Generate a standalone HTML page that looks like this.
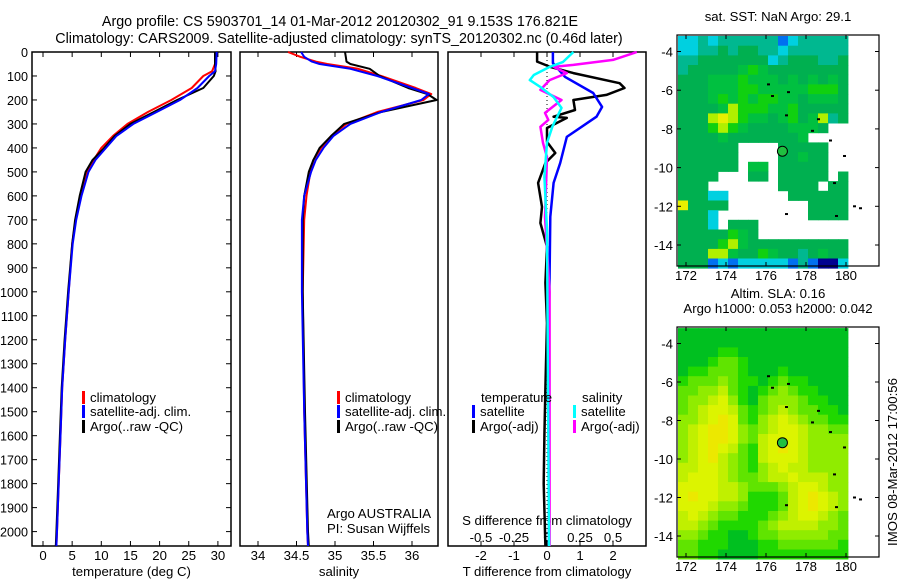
<!DOCTYPE html>
<html><head><meta charset="utf-8"><style>
body{margin:0;background:#fff;}
svg{display:block;font-family:"Liberation Sans",sans-serif;font-size:13.2px;}
</style></head><body>
<svg id="fig" width="900" height="580" viewBox="0 0 900 580">
<text x="340" y="26" text-anchor="middle" style="font-size:14.3px">Argo profile: CS 5903701_14 01-Mar-2012 20120302_91 9.153S 176.821E</text>
<text x="339" y="43" text-anchor="middle" style="font-size:14.3px">Climatology: CARS2009. Satellite-adjusted climatology: synTS_20120302.nc (0.46d later)</text>
<g id="g"></g>
</svg>
<script>
// ---- profile data ----
const depthT = [0,50,80,100,150,200,250,300,350,400,450,500,600,700,800,1000,1200,1400,1600,1800,2000,2060];
const tempClim = [29.5,29.5,29,27.5,25.5,22,18,14.5,12,10,8.7,7.6,6.5,5.6,5,4.4,3.8,3.3,3.0,2.7,2.4,2.3];
const tempSat  = [29.8,29.7,29.5,28.5,26.5,23.5,19.5,15.5,12.6,10.8,9,7.8,6.6,5.7,5.1,4.4,3.8,3.3,3.0,2.7,2.4,2.3];
const tempArgo = [29.5,29.5,29.6,29.3,27.5,23,19,15,12.3,10.5,8.5,7.3,6.3,5.5,5,4.3,3.7,3.2,2.9,2.6,2.3,2.2];
const depthS = [0,20,40,50,70,100,150,175,200,250,300,350,400,450,500,600,700,1000,1500,2000,2060];
const salClim = [34.39,34.55,34.75,34.9,35.3,35.6,36.05,36.25,36.15,35.55,35.15,34.95,34.82,34.72,34.68,34.63,34.6,34.58,34.6,34.64,34.65];
const salSat  = [34.56,34.6,34.7,34.8,35.2,35.55,36.0,36.22,36.12,35.6,35.2,34.98,34.85,34.75,34.69,34.6,34.57,34.57,34.6,34.64,34.65];
const salArgo = [35.13,35.14,35.15,35.2,35.45,35.58,35.95,36.2,36.32,35.6,35.12,34.95,34.8,34.72,34.66,34.6,34.58,34.58,34.61,34.65,34.66];
const dTsatD = [0,46,104,171,229,270,354,463,546,687,1130,2060];
const dTsat  = [0.18,0.18,0.55,1.4,1.67,1.5,0.6,0.4,0.2,0.1,0.06,0.06];
const dTargoD = [0,40,62,88,130,150,179,200,242,270,275,317,375,421,463,546,646,713,812,963,1130,1400,1600,1800,2060];
const dTargo  = [-0.3,-0.3,0.1,0.8,2.2,2.35,1.8,0.8,0.85,0.2,0.6,0,0,0.25,-0.05,-0.27,-0.15,-0.2,0,-0.05,0,-0.05,-0.08,-0.1,-0.05];
const dSsatD = [0,42,62,96,117,146,188,233,312,379,521,742,2060];
const dSsat  = [0.2,0.12,0.02,-0.1,-0.13,-0.05,0.05,0.11,0.04,0,-0.02,0,0.015];
const dSargoD = [0,33,54,62,88,117,158,200,254,283,312,379,438,688,1000,2060];
const dSargo  = [0.68,0.5,0.2,0.05,0.15,0.02,-0.05,0.11,-0.015,0.01,-0.05,-0.03,0,-0.015,0.02,0.02];
const depthTicks = [0,100,200,300,400,500,600,700,800,900,1000,1100,1200,1300,1400,1500,1600,1700,1800,1900,2000];
const tTicks = [0,5,10,15,20,25,30];
const sTicks = [34,34.5,35,35.5,36];
const dtTicks = [-2,-1,0,1,2];
const dsTicks = [-0.5,-0.25,0,0.25,0.5];
const dsTickLabels = ["-0.5","-0.25","0","0.25","0.5"];
// ---- map data ----
const lonTicks = [172,174,176,178,180];
const latTicks = [-4,-6,-8,-10,-12,-14];
const sstRows = [
"22323333331233333","22334344332333333","33444444423444334","34444456544444444",
"44455565554545454","44455566555556664","44456565665545554","44445766655644444",
"44478765545645734","444676544445554..","4444544444445....","444444....44444..",
"444444....44544..","444444.55.44444..","4444...44.44444.4","444.......4444.44",
"44422......444444","84444........4444","4442.........4444","4442.444.........",
"44444654.........","44446754444444444","44477544654434544","44412122222131002"];
const slaRows = [
"00000000000000000","00000000000000000","00001100000000000","00012210000000000",
"01122210001000000","12223211012110000","22334210123211000","23345310233321100",
"23455421234322110","33456521345432211","34566532345543322","34566532455543333",
"34565421456543333","34564321455543333","44554321345443333","45554322344544433",
"55554432223455433","56554431112456543","55543321112456543","45432211123455432",
"44321111234444332","33211001223333322","22111000112222221","22110000111111111"];
const islandLon = [176.1,176.3,177.1,177.0,178.6,178.3,179.2,179.9,179.4,180.4,180.7,177.0,179.5];
const islandLat = [-5.7,-6.3,-6.1,-7.3,-7.5,-8.1,-8.6,-9.4,-10.8,-12.0,-12.1,-12.4,-12.5];
const floatLon = 176.821, floatLat = -9.153;

const NS="http://www.w3.org/2000/svg";
const G=document.getElementById('g');
function mk(tag,attrs,parent){const e=document.createElementNS(NS,tag);for(const k in attrs)e.setAttribute(k,attrs[k]);(parent||G).appendChild(e);return e;}
const yD = d => 52 + d*0.2398;
const PT=[32,231], PS=[240,438], PD=[448,646], PY=[52,546];
const xT = v => 43 + v*5.83;
const xS = v => 258 + (v-34)*77;
const xDT = v => 547 + v*33;
const xDS = v => 547 + v*132;

function frame(x0,x1,name,ticksX,fx,labels,title,leftTicks){
  const r=mk('rect',{x:x0,y:PY[0],width:x1-x0,height:PY[1]-PY[0],fill:'none',stroke:'#000','stroke-width':1.5});
  
  
  ticksX.forEach((v,i)=>{const x=fx(v);
    mk('line',{x1:x,x2:x,y1:PY[0],y2:PY[0]+5,stroke:'#000'});
    mk('line',{x1:x,x2:x,y1:PY[1],y2:PY[1]-5,stroke:'#000'});
    const t=mk('text',{x:x,y:560,'text-anchor':'middle'});t.textContent=labels?labels[i]:String(v);
    
    
  });
  const tt=mk('text',{x:(x0+x1)/2,y:576,'text-anchor':'middle'});tt.textContent=title;
  
  
  if(leftTicks){depthTicks.forEach(d=>{const y=yD(d);
    mk('line',{x1:x0,x2:x0+5,y1:y,y2:y,stroke:'#000'});
    mk('line',{x1:x1,x2:x1-5,y1:y,y2:y,stroke:'#000'});});}
}
frame(PT[0],PT[1],'temperature-panel',tTicks,xT,null,'temperature (deg C)',true);
depthTicks.forEach(d=>{const t=mk('text',{x:28,y:yD(d)+5,'text-anchor':'end','font-size':'12.6px'});t.textContent=String(d);
  
  });
frame(PS[0],PS[1],'salinity-panel',sTicks,xS,null,'salinity',false);
frame(PD[0],PD[1],'difference-panel',dtTicks,xDT,null,'T difference from climatology',false);
dsTicks.forEach((v,i)=>{const x=xDS(v);mk('line',{x1:x,x2:x,y1:PY[0],y2:PY[0]+5,stroke:'#000'});
  const t=mk('text',{x:x,y:542,'text-anchor':'middle'});t.textContent=dsTickLabels[i];
  
  });
{const t=mk('text',{x:547,y:525,'text-anchor':'middle'});t.textContent='S difference from climatology';

}
mk('line',{x1:xDT(0),x2:xDT(0),y1:PY[0],y2:PY[1],stroke:'#000','stroke-dasharray':'1,3'});

function line(ds,vs,fx,color,name,w){
  const p=mk('polyline',{points:ds.map((d,i)=>fx(vs[i]).toFixed(1)+','+yD(d).toFixed(1)).join(' '),fill:'none',stroke:color,'stroke-width':w||2,'stroke-linejoin':'round'});
  
  
}
line(depthT,tempClim,xT,'#f00','temperature-climatology-line');
line(depthT,tempArgo,xT,'#000','temperature-argo-line');
line(depthT,tempSat,xT,'#00f','temperature-satellite-line');
line(depthS,salClim,xS,'#f00','salinity-climatology-line');
line(depthS,salArgo,xS,'#000','salinity-argo-line');
line(depthS,salSat,xS,'#00f','salinity-satellite-line');
line(dTargoD,dTargo,xDT,'#000','t-diff-argo-line',2.5);
line(dTsatD,dTsat,xDT,'#00f','t-diff-satellite-line',2.5);
line(dSargoD,dSargo,xDS,'#f0f','s-diff-argo-line',2.5);
line(dSsatD,dSsat,xDS,'#0ff','s-diff-satellite-line',2.5);

function legend(x,y,color,label,name){
  const b=mk('rect',{x:x,y:y-11,width:3,height:13,fill:color});
  
  
  const t=mk('text',{x:x+8,y:y});t.textContent=label;
  
  
}
legend(82,402,'#f00','climatology','legend-t-climatology');
legend(82,416,'#00f','satellite-adj. clim.','legend-t-satellite');
legend(82,431,'#000','Argo(..raw -QC)','legend-t-argo');
legend(337,402,'#f00','climatology','legend-s-climatology');
legend(337,416,'#00f','satellite-adj. clim.','legend-s-satellite');
legend(337,431,'#000','Argo(..raw -QC)','legend-s-argo');
{const t=mk('text',{x:481,y:402});t.textContent='temperature';
const u=mk('text',{x:582,y:402});u.textContent='salinity';}
legend(472,416,'#00f','satellite','legend-dt-satellite');
legend(472,431,'#000','Argo(-adj)','legend-dt-argo');
legend(573,416,'#0ff','satellite','legend-ds-satellite');
legend(573,431,'#f0f','Argo(-adj)','legend-ds-argo');
{const t=mk('text',{x:327,y:518});t.textContent='Argo AUSTRALIA';
const u=mk('text',{x:327,y:533});u.textContent='PI: Susan Wijffels';}

// ---- maps ----
const sstColors={'0':'#000090','1':'#0070f0','2':'#00d0e0','3':'#00b890','4':'#00b050','5':'#00c040','6':'#10d010','7':'#b0f000','8':'#e8f000'};
const slaColors=['#00c020','#20d800','#60e400','#90ec00','#c0f000','#dcf400','#ece800'];
function map(top,bottom,rows,colors,name,title1,title2){
  const xL=d=>686+(d-172)*20;
  const y4=top+16.5, y14=bottom-21;
  const yl=t=>y4+(-4-t)*(y14-y4)/10;
  const g=mk('g',{});
  
  
  rows.forEach((row,i)=>{
    for(let j=0;j<17;j++){const c=row[j]||'.';if(c==='.')continue;
      const lon=171.6+0.5*j, lat=-3.2-0.5*i;
      const col=Array.isArray(colors)?colors[+c]:colors[c];
      const x0=xL(lon),x1=xL(lon+0.5),ya=yl(lat),yb=yl(lat-0.5);
      const r=mk('rect',{x:x0.toFixed(1),y:ya.toFixed(1),width:(x1-x0+0.4).toFixed(1),height:(yb-ya+0.4).toFixed(1),fill:col},g);
      
      
    }});
  islandLon.forEach((lo,i)=>{const d=mk('rect',{x:xL(lo)-1,y:yl(islandLat[i])-1,width:3,height:2,fill:'#000'},g);
    
    });
  const c=mk('circle',{cx:xL(floatLon),cy:yl(floatLat),r:5,fill:'#20c040',stroke:'#000','stroke-width':1},g);
  
  
  const f=mk('rect',{x:677,y:top,width:202,height:bottom-top,fill:'none',stroke:'#000','stroke-width':1.2},g);
  
  
  lonTicks.forEach(v=>{const x=xL(v);mk('line',{x1:x,x2:x,y1:top,y2:top+4,stroke:'#000'},g);mk('line',{x1:x,x2:x,y1:bottom,y2:bottom-4,stroke:'#000'},g);
    const t=mk('text',{x:x,y:bottom+14,'text-anchor':'middle'},g);t.textContent=String(v);
    
    });
  latTicks.forEach(v=>{const y=yl(v);mk('line',{x1:677,x2:681,y1:y,y2:y,stroke:'#000'},g);mk('line',{x1:879,x2:875,y1:y,y2:y,stroke:'#000'},g);
    const t=mk('text',{x:673,y:y+5,'text-anchor':'end'},g);t.textContent=String(v);
    
    });
  const t1=mk('text',{x:778,y:title2?top-29:top-14,'text-anchor':'middle'},g);t1.textContent=title1;
  
  
  if(title2){const t2=mk('text',{x:778,y:top-14,'text-anchor':'middle'},g);t2.textContent=title2;
    
    }
}
map(35,266,sstRows,sstColors,'sst-map','sat. SST: NaN Argo: 29.1');
map(327,557,slaRows,slaColors,'sla-map','Altim. SLA: 0.16','Argo h1000: 0.053 h2000: 0.042');
{const t=mk('text',{x:0,y:0,transform:'translate(897,462) rotate(-90)','text-anchor':'middle'});t.textContent='IMOS 08-Mar-2012 17:00:56';

}
</script>
</body></html>
